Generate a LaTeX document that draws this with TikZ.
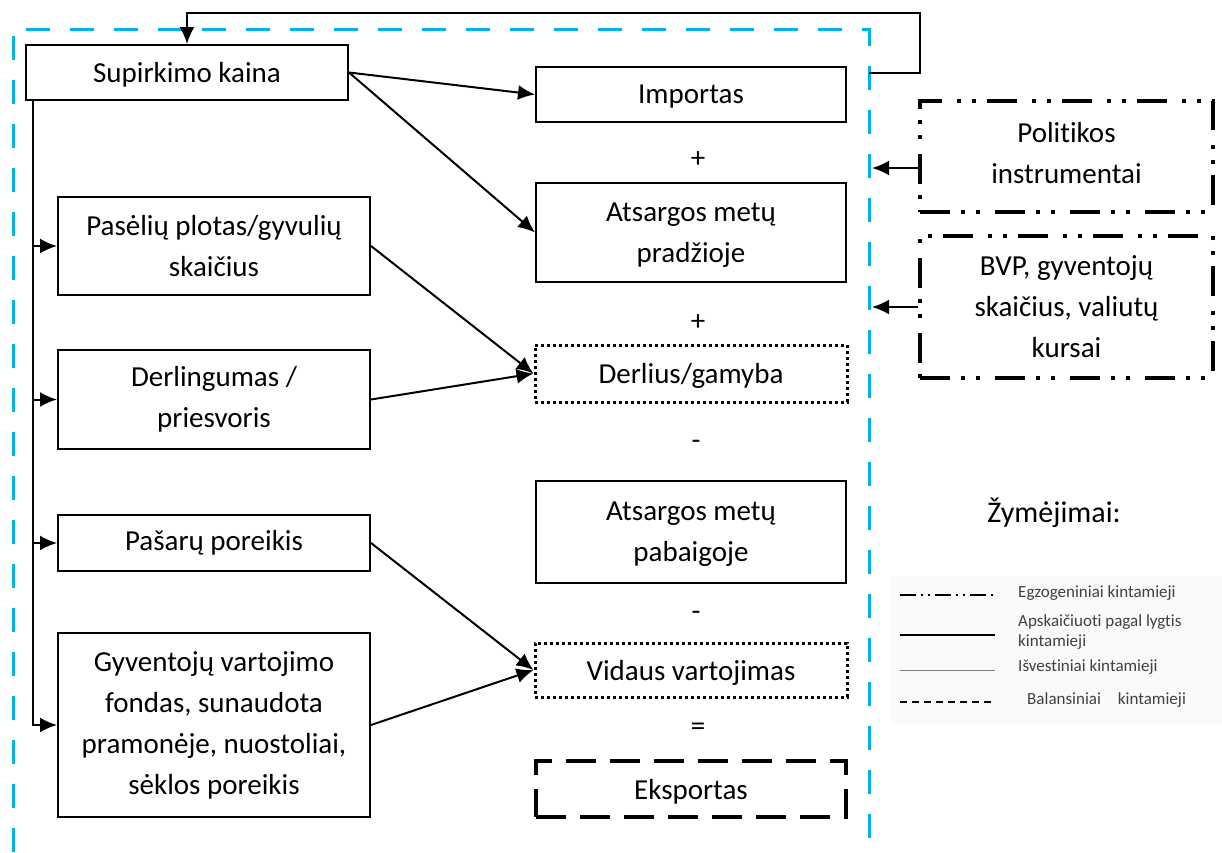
\documentclass[tikz,border=0pt]{standalone}
\usepackage{fontspec}
\setmainfont[Ligatures=NoCommon]{Carlito}
\usepackage{tikz}
\usetikzlibrary{arrows.meta}
\definecolor{frameblue}{RGB}{0,176,240}
\tikzset{font={\fontsize{29pt}{41pt}\selectfont}}

\begin{document}
\begin{tikzpicture}[x=1pt,y=-1pt,
box/.style={draw,line width=2pt,align=center,inner sep=0pt},
low/.style={text depth=0pt},
dotbox/.style={box,line width=3pt,dash pattern=on 3pt off 3pt},
balbox/.style={box,line width=4pt,dash pattern=on 30pt off 14pt},
exobox/.style={box,line width=4pt,dash pattern=on 30pt off 11pt on 4pt off 11pt on 4pt off 15pt},
arr/.style={line width=2pt,-{Latex[length=17pt,width=15pt]}},
legtext/.style={font={\fontsize{17pt}{20pt}\selectfont},text=black!75,anchor=west,align=left,inner sep=0pt}
]
\useasboundingbox (0,0) rectangle (1222,852);

%modelio riba
\draw[frameblue,line width=3pt,dash pattern=on 24pt off 20pt] (13,852) -- (13,29) -- (869,29) -- (869,852);

%kairys stulpelis
\node[box,low,minimum width=322pt,minimum height=55pt] (supirk) at (187,72.5) {Supirkimo kaina};
\node[box,minimum width=312pt,minimum height=98pt] (pasel) at (214,246) {Pasėlių plotas/gyvulių\\skaičius};
\node[box,minimum width=312pt,minimum height=99pt] (derling) at (214,399.5) {Derlingumas /\\priesvoris};
\node[box,minimum width=312pt,minimum height=56pt] (pasar) at (214,543) {Pašarų poreikis};
\node[box,minimum width=312pt,minimum height=184pt] (gyvent) at (214,725) {Gyventojų vartojimo\\fondas, sunaudota\\pramonėje, nuostoliai,\\sėklos poreikis};

%balansas
\node[box,low,minimum width=310pt,minimum height=55pt] (importas) at (691,94.5) {Importas};
\node (plus1) at (698,160) {+};
\node[box,low,minimum width=310pt,minimum height=99pt] (atspr) at (691,232.5) {Atsargos metų\\pradžioje};
\node (plus2) at (698,323) {+};
\node[dotbox,low,minimum width=312pt,minimum height=57pt] (derlius) at (691,373.5) {Derlius/gamyba};
\node (minus1) at (696,445) {-};
\node[box,low,minimum width=310pt,minimum height=102pt] (atspab) at (691,532) {Atsargos metų\\pabaigoje};
\node (minus2) at (696,616) {-};
\node[dotbox,low,minimum width=312pt,minimum height=54pt] (vidaus) at (691,670) {Vidaus vartojimas};
\node (lygu) at (698,729) {=};
\node[balbox,low,minimum width=310pt,minimum height=56pt] (eksport) at (691,789) {Eksportas};

%egzogeniniai
\node[exobox,text depth=8pt,minimum width=293pt,minimum height=111pt] (polit) at (1066.5,156.5) {Politikos\\instrumentai};
\node[exobox,minimum width=293pt,minimum height=142pt] (bvp) at (1066.5,307) {BVP, gyventojų\\skaičius, valiutų\\kursai};

%rodykles
\draw[arr] (supirk.east) -- (importas.west);
\draw[arr] (supirk.east) -- (atspr.west);
\draw[arr] (pasel.east) -- (derlius.west);
\draw[arr] (derling.east) -- (derlius.west);
\draw[arr] (pasar.east) -- (vidaus.west);
\draw[arr] (gyvent.east) -- (vidaus.west);

\coordinate (bus) at (33,100);
\draw[arr] (bus) |- (gyvent.west);
\foreach \n in {pasel,derling,pasar}
  \draw[arr] (bus |- \n.west) -- (\n.west);

\coordinate (back) at (869,73);
\coordinate (loop) at (920,13);
\draw[arr] (back) -| (loop) -| (supirk.north);

\coordinate (polin) at (872,168);
\coordinate (bvpin) at (872,307);
\draw[arr] (polit.west |- polin) -- (polin);
\draw[arr] (bvp.west) -- (bvpin);

%zymejimai
\node[font={\fontsize{30pt}{36pt}\selectfont}] (zym) at (1054,513) {Žymėjimai:};
\fill[black!2] (890,576) rectangle (1222,724);
\coordinate (l1) at (900,595);
\coordinate (l2) at (900,635);
\coordinate (l3) at (900,670);
\coordinate (l4) at (900,702);
\draw[line width=2pt,dash pattern=on 16pt off 5pt on 2pt off 5pt on 2pt off 5pt] (l1) -- +(95,0);
\draw[line width=2.5pt] (l2) -- +(95,0);
\draw[line width=0.8pt,black!50] (l3) -- +(95,0);
\draw[line width=2pt,dash pattern=on 7pt off 5pt] (l4) -- +(95,0);
\node[legtext] (t1) at (1018,593) {Egzogeniniai kintamieji};
\node[legtext] (t2) at (1018,632) {Apskaičiuoti pagal lygtis\\kintamieji};
\node[legtext] (t3) at (1018,667) {Išvestiniai kintamieji};
\node[legtext] (t4) at (1027,700) {Balansiniai\quad kintamieji};

\end{tikzpicture}
\end{document}
